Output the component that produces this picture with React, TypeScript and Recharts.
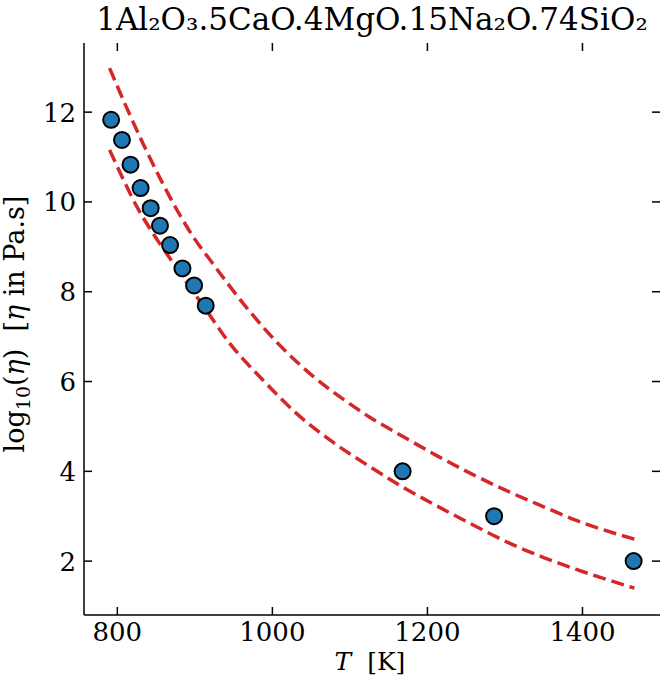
import React from 'react';
import { ComposedChart, XAxis, YAxis, Scatter, Line, ReferenceLine } from 'recharts';

const measuredT = [792, 806, 817, 830, 843, 855, 868, 884, 899, 914, 1168, 1286, 1466];
const measuredLogEta = [11.83, 11.38, 10.83, 10.31, 9.86, 9.47, 9.04, 8.52, 8.14, 7.69, 4.0, 3.0, 2.0];

const upperT = [790, 812, 834, 855, 877, 898, 920, 967, 1010, 1053, 1096, 1126, 1169, 1212, 1255, 1307, 1350, 1393, 1467];
const upperLogEta = [12.98, 12.1, 11.27, 10.53, 9.82, 9.22, 8.7, 7.64, 6.8, 6.11, 5.55, 5.2, 4.77, 4.35, 3.96, 3.53, 3.21, 2.9, 2.49];

const lowerT = [790, 808, 825, 846, 868, 913, 945, 988, 1031, 1074, 1126, 1169, 1212, 1255, 1307, 1350, 1393, 1467];
const lowerLogEta = [11.16, 10.49, 9.9, 9.3, 8.74, 7.63, 6.85, 6.03, 5.29, 4.7, 4.1, 3.64, 3.23, 2.84, 2.39, 2.08, 1.81, 1.4];

const xTicks = [800, 1000, 1200, 1400];
const yTicks = [2, 4, 6, 8, 10, 12];

const titleText = '1Al₂O₃.5CaO.4MgO.15Na₂O.74SiO₂';

const points = measuredT.map((T, i) => ({ T, y: measuredLogEta[i] }));
const upper = upperT.map((T, i) => ({ T, y: upperLogEta[i] }));
const lower = lowerT.map((T, i) => ({ T, y: lowerLogEta[i] }));

const X_DOMAIN = [757, 1500];
const Y_DOMAIN = [0.8, 13.54];
// inward tick length (~8px) expressed in data units of each axis
const TICK_DY = 0.178;
const TICK_DX = 10.3;

const FONT = 'DejaVu Serif';
const TICK_FS = 26;

const BottomTick = (p: any) => (
  <text x={p.x} y={p.y + 26} textAnchor="middle" fontSize={TICK_FS} fontFamily={FONT} fill="#000">
    {p.payload.value}
  </text>
);
const LeftTick = (p: any) => (
  <text x={p.x - 8} y={p.y + 9.5} textAnchor="end" fontSize={TICK_FS} fontFamily={FONT} fill="#000">
    {p.payload.value}
  </text>
);

const Dot = (p: any) => (
  <circle cx={p.cx} cy={p.cy} r={8} fill="#1f77b4" stroke="#000" strokeWidth={2} />
);

export default function App() {
  const axisLine = { stroke: '#000', strokeWidth: 1.5 };
  const tickStyle = { stroke: '#000', strokeWidth: 1.5 };
  return (
    <div style={{ position: 'absolute', left: 0, top: 0, width: 663, height: 687 }}>
      <ComposedChart width={663} height={687} margin={{ top: 43, right: 3, bottom: 0, left: 0 }}>
        <XAxis xAxisId="b" dataKey="T" type="number" domain={X_DOMAIN} ticks={xTicks} interval={0}
          orientation="bottom" height={72} tickSize={0} tickMargin={0} tickLine={false}
          axisLine={axisLine} tick={<BottomTick />} allowDataOverflow />
        <XAxis xAxisId="t" dataKey="T" type="number" domain={X_DOMAIN} ticks={xTicks} interval={0}
          orientation="top" height={0} tickSize={0} tickMargin={0} tickLine={false}
          axisLine={axisLine} tick={false} allowDataOverflow />
        <YAxis yAxisId="l" type="number" domain={Y_DOMAIN} ticks={yTicks} interval={0}
          orientation="left" width={84} tickSize={0} tickMargin={0} tickLine={false}
          axisLine={axisLine} tick={<LeftTick />} allowDataOverflow />
        <YAxis yAxisId="r" type="number" domain={Y_DOMAIN} ticks={yTicks} interval={0}
          orientation="right" width={0} tickSize={0} tickMargin={0} tickLine={false}
          axisLine={axisLine} tick={false} allowDataOverflow />
        {xTicks.map((t) => (
          <ReferenceLine key={'b' + t} xAxisId="b" yAxisId="l" ifOverflow="visible" {...tickStyle}
            segment={[{ x: t, y: Y_DOMAIN[0] }, { x: t, y: Y_DOMAIN[0] + TICK_DY }]} />
        ))}
        {xTicks.map((t) => (
          <ReferenceLine key={'t' + t} xAxisId="b" yAxisId="l" ifOverflow="visible" {...tickStyle}
            segment={[{ x: t, y: Y_DOMAIN[1] }, { x: t, y: Y_DOMAIN[1] - TICK_DY }]} />
        ))}
        {yTicks.map((v) => (
          <ReferenceLine key={'l' + v} xAxisId="b" yAxisId="l" ifOverflow="visible" {...tickStyle}
            segment={[{ x: X_DOMAIN[0], y: v }, { x: X_DOMAIN[0] + TICK_DX, y: v }]} />
        ))}
        {yTicks.map((v) => (
          <ReferenceLine key={'r' + v} xAxisId="b" yAxisId="l" ifOverflow="visible" {...tickStyle}
            segment={[{ x: X_DOMAIN[1], y: v }, { x: X_DOMAIN[1] - TICK_DX, y: v }]} />
        ))}
        <Scatter xAxisId="b" yAxisId="l" data={points} dataKey="y" shape={<Dot />} isAnimationActive={false} />
        <Line xAxisId="b" yAxisId="l" data={upper} dataKey="y" type="monotone" stroke="#d62728"
          strokeWidth={3.5} strokeDasharray="13 6" dot={false} activeDot={false} isAnimationActive={false} />
        <Line xAxisId="b" yAxisId="l" data={lower} dataKey="y" type="monotone" stroke="#d62728"
          strokeWidth={3.5} strokeDasharray="13 6" dot={false} activeDot={false} isAnimationActive={false} />
      </ComposedChart>
      <svg width={663} height={687} style={{ position: 'absolute', left: 0, top: 0, pointerEvents: 'none' }}>
        <text x={372} y={30} textAnchor="middle" fontSize={31} fontFamily={FONT} fill="#000">{titleText}</text>
        <text x={370} y={670} textAnchor="middle" fontSize={25} fontFamily={FONT} fill="#000">
          <tspan fontStyle="italic">T</tspan>
          <tspan>{'\u00a0\u00a0[K]'}</tspan>
        </text>
        <text x={24} y={324} textAnchor="middle" fontSize={27} fontFamily={FONT} fill="#000"
          transform="rotate(-90, 24, 324)">
          <tspan>log</tspan>
          <tspan fontSize={19} dy={6}>10</tspan>
          <tspan dy={-6}>(</tspan>
          <tspan fontStyle="italic">η</tspan>
          <tspan>{')\u00a0\u00a0['}</tspan>
          <tspan fontStyle="italic">η</tspan>
          <tspan>{'\u00a0in Pa.s]'}</tspan>
        </text>
      </svg>
    </div>
  );
}
